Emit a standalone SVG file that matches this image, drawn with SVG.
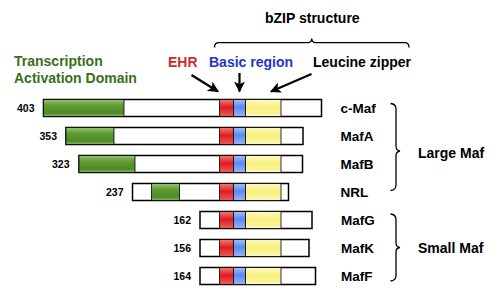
<svg xmlns="http://www.w3.org/2000/svg" width="500" height="294" viewBox="0 0 500 294">
<defs>
<linearGradient id="gG" x1="0" y1="0" x2="0" y2="1">
<stop offset="0" stop-color="#9cc47a"/><stop offset="0.35" stop-color="#5f9a32"/><stop offset="0.8" stop-color="#4e8a26"/><stop offset="1" stop-color="#8fbb6a"/>
</linearGradient>
<linearGradient id="gR" x1="0" y1="0" x2="0" y2="1">
<stop offset="0" stop-color="#f37a7a"/><stop offset="0.45" stop-color="#e01e1e"/><stop offset="1" stop-color="#ee5a5a"/>
</linearGradient>
<linearGradient id="gB" x1="0" y1="0" x2="0" y2="1">
<stop offset="0" stop-color="#a8c0fa"/><stop offset="0.45" stop-color="#5a88f0"/><stop offset="1" stop-color="#98b4f6"/>
</linearGradient>
<linearGradient id="gY" x1="0" y1="0" x2="0" y2="1">
<stop offset="0" stop-color="#fbf8c0"/><stop offset="0.5" stop-color="#f7f07a"/><stop offset="1" stop-color="#fbf7b8"/>
</linearGradient>
<marker id="ah" viewBox="0 0 10 10" refX="9" refY="5" markerWidth="5" markerHeight="5" orient="auto" markerUnits="strokeWidth">
<path d="M0,0 L10,5 L0,10 L2.5,5 Z" fill="#000"/>
</marker>
<g id="doms">
<rect x="219.5" y="0" width="14" height="17" fill="url(#gR)" stroke="#000" stroke-width="0.8"/>
<rect x="233.5" y="0" width="12" height="17" fill="url(#gB)" stroke="#000" stroke-width="0.8"/>
<rect x="245.5" y="0" width="35.5" height="17" fill="url(#gY)" stroke="#000" stroke-width="0.8"/>
</g>
</defs>
<style>
.bar{fill:#fff;stroke:#000;stroke-width:1.5}
.tad{fill:url(#gG);stroke:#000;stroke-width:0.8}
.t{font-family:"Liberation Sans",Arial,sans-serif;font-weight:bold;fill:#000}
.n{font-size:10.5px;text-anchor:end}
.nm{font-size:13.5px}
.h{font-size:14px}
.ln{fill:none;stroke:#000;stroke-width:1.3}
.ar{fill:none;stroke:#000;stroke-width:2.2;marker-end:url(#ah)}
</style>

<g id="headers">
<text class="t h" x="265" y="23">bZIP structure</text>
<text class="t h" x="14" y="66" fill="#3a6e1a" style="fill:#3a6e1a">Transcription</text>
<text class="t h" x="14" y="82.5" style="fill:#3a6e1a">Activation Domain</text>
<text class="t h" x="168" y="67" style="fill:#d42a2a">EHR</text>
<text class="t h" x="209" y="67" style="fill:#2233cc">Basic region</text>
<text class="t h" x="313" y="67">Leucine zipper</text>
<path class="ln" d="M214.5,47.5 Q214.5,42.7 219,42.7 L308,42.7 Q311.5,42.7 311.7,38.5 Q312,42.7 315.5,42.7 L404.5,42.7 Q409,42.7 409,47.5"/>
</g>

<g id="connectors">
<line class="ar" x1="191.5" y1="75" x2="218" y2="91.5"/>
<line class="ar" x1="239.5" y1="73" x2="239.5" y2="91.5"/>
<line class="ar" x1="311.5" y1="74" x2="271" y2="91.5"/>
</g>

<g id="c-Maf">
<rect class="bar" x="43.5" y="99.5" width="278" height="17"/>
<rect class="tad" x="43.5" y="99.5" width="80.5" height="17"/>
<use href="#doms" y="99.5"/>
<text class="t n" x="34.5" y="112">403</text>
<text class="t nm" x="340.5" y="113">c-Maf</text>
</g>
<g id="MafA">
<rect class="bar" x="66" y="127.5" width="237" height="17"/>
<rect class="tad" x="66" y="127.5" width="48" height="17"/>
<use href="#doms" y="127.5"/>
<text class="t n" x="57" y="140">353</text>
<text class="t nm" x="340.5" y="141">MafA</text>
</g>
<g id="MafB">
<rect class="bar" x="79" y="155.5" width="223.5" height="17"/>
<rect class="tad" x="79" y="155.5" width="56" height="17"/>
<use href="#doms" y="155.5"/>
<text class="t n" x="69.5" y="168">323</text>
<text class="t nm" x="340.5" y="169">MafB</text>
</g>
<g id="NRL">
<rect class="bar" x="132.5" y="183.5" width="156" height="17"/>
<rect class="tad" x="151.5" y="183.5" width="28" height="17"/>
<use href="#doms" y="183.5"/>
<text class="t n" x="123.5" y="196">237</text>
<text class="t nm" x="340.5" y="197">NRL</text>
</g>
<g id="MafG">
<rect class="bar" x="200" y="211.5" width="112" height="17"/>
<use href="#doms" y="211.5"/>
<text class="t n" x="191" y="224">162</text>
<text class="t nm" x="341" y="225">MafG</text>
</g>
<g id="MafK">
<rect class="bar" x="200" y="239.5" width="109" height="17"/>
<use href="#doms" y="239.5"/>
<text class="t n" x="191" y="252">156</text>
<text class="t nm" x="341" y="253">MafK</text>
</g>
<g id="MafF">
<rect class="bar" x="200" y="267.5" width="115.5" height="17"/>
<use href="#doms" y="267.5"/>
<text class="t n" x="191" y="280">164</text>
<text class="t nm" x="341" y="281">MafF</text>
</g>

<g id="large-maf">
<path class="ln" d="M390.5,103.5 Q396,104 396,109 L396,146 Q396,150.5 400,151 Q396,151.5 396,156 L396,185 Q396,190 390.5,190.5"/>
<text class="t h" x="418" y="158">Large Maf</text>
</g>
<g id="small-maf">
<path class="ln" d="M390.5,214 Q396,214.5 396,219.5 L396,243 Q396,247 400,247.5 Q396,248 396,252 L396,275.5 Q396,280.5 390.5,281"/>
<text class="t h" x="418" y="252.5">Small Maf</text>
</g>
</svg>
